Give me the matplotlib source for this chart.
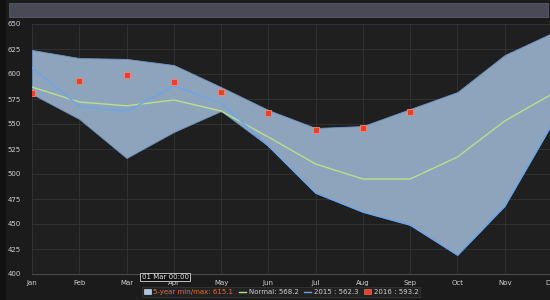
import matplotlib.pyplot as plt
from matplotlib.patches import Rectangle
from matplotlib.lines import Line2D
from matplotlib.patches import Patch

# data ------------------------------------------------------------------------
months = ['Jan', 'Feb', 'Mar', 'Apr', 'May', 'Jun',
          'Jul', 'Aug', 'Sep', 'Oct', 'Nov', 'Dec']
five_yr_max = [624, 616, 615.1, 609, 587, 564, 546, 548, 565, 582, 619, 641]
five_yr_min = [580, 555, 516, 542, 563, 528, 481, 462, 449, 419, 468, 550]
normal = [587, 572, 568.2, 574, 563, 537, 510, 495, 495, 517, 553, 580]
y2015 = [606, 568, 562.3, 588, 571, 528, 481, 462, 449, 419, 468, 550]
y2016 = [581, 593, 599, 592, 582, 561, 544, 546, 562]
legend_labels = ['5-year min/max: 615.1', 'Normal: 568.2',
                 '2015 : 562.3', '2016 : 593.2']
yticks = [400, 425, 450, 475, 500, 525, 550, 575, 600, 625, 650]
# -----------------------------------------------------------------------------

W, H = 550, 300
fig = plt.figure(figsize=(5.5, 3.0), dpi=100, facecolor='#1b1b1b')

# frame decorations (kept behind the axes)
fig.patches.append(Rectangle((0, 0), 6 / W, 1, transform=fig.transFigure,
                             facecolor='#111111', edgecolor='none', zorder=-2))
fig.patches.append(Rectangle((9 / W, 1 - 17 / H), 539 / W, 14 / H,
                             transform=fig.transFigure, facecolor='#4a4a56',
                             edgecolor='#5c5c68', linewidth=0.6, zorder=-1))

ax = fig.add_axes([32 / W, 1 - 274 / H, 520 / W, 250 / H])
ax.set_facecolor('#1f1f1f')

x = list(range(len(months)))
ax.fill_between(x, five_yr_min, five_yr_max, facecolor='#8ea4bd',
                edgecolor='#6d93c4', linewidth=0.6, zorder=2)
ax.plot(x, normal, color='#b7df8c', linewidth=1.0, zorder=3)
ax.plot(x, y2015, color='#6aa6e8', linewidth=1.0, zorder=3)
ax.plot(x[:len(y2016)], y2016, linestyle='none', marker='s', markersize=4.5,
        markerfacecolor='#e8412b', markeredgecolor='#f08a78',
        markeredgewidth=0.6, zorder=4)

ax.set_xlim(0, 11)
ax.set_ylim(400, 650)
ax.set_xticks(x)
ax.set_xticklabels(months)
ax.set_yticks(yticks)
ax.tick_params(axis='both', length=0, labelsize=5, labelcolor='#d0d0d0')
ax.tick_params(axis='y', pad=8)
ax.tick_params(axis='x', pad=4)
ax.grid(True, color='#343434', linewidth=0.6, zorder=0)
ax.set_axisbelow(True)
for side in ['top', 'right', 'left']:
    ax.spines[side].set_visible(False)
ax.spines['bottom'].set_color('#4a4a4a')
ax.spines['bottom'].set_linewidth(0.8)

# crosshair tooltip
fig.text(165 / W, 1 - 277 / H, '01 Mar 00:00', fontsize=5, color='#e0e0e0',
         ha='center', va='center',
         bbox=dict(boxstyle='square,pad=0.15', facecolor='#111111',
                   edgecolor='#d8d8d8', linewidth=0.6))

handles = [Patch(facecolor='#a9c6e6', edgecolor='#dde8f5', linewidth=0.4),
           Line2D([], [], color='#b7df8c', linewidth=1.0),
           Line2D([], [], color='#6aa6e8', linewidth=1.0),
           Patch(facecolor='#e8412b', edgecolor='#f08070', linewidth=0.4)]
leg = fig.legend(handles, legend_labels, loc='center', ncol=4,
                 bbox_to_anchor=(281 / W, 1 - 292 / H), fontsize=5,
                 frameon=True, facecolor='#222222', edgecolor='#3a3a3a',
                 framealpha=1, fancybox=False, handlelength=1.0,
                 handleheight=0.6, handletextpad=0.4, columnspacing=0.8,
                 borderpad=0.25, borderaxespad=0)
leg.get_frame().set_linewidth(0.5)
for i, t in enumerate(leg.get_texts()):
    t.set_color('#e0703a' if i == 0 else '#cfcfcf')

fig.savefig('out.png', dpi=100, facecolor=fig.get_facecolor())
